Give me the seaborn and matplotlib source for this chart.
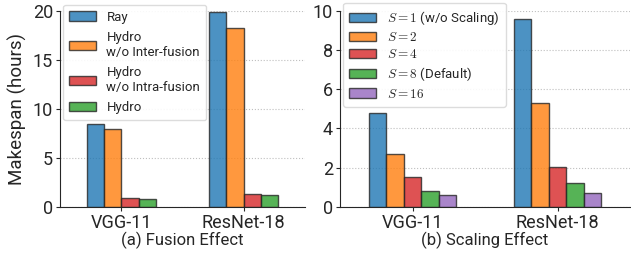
import pandas as pd
import seaborn as sns
import matplotlib.pyplot as plt

models = ["VGG-11", "ResNet-18"]

# (a) fusion effect
fusion_labels = ["Ray", "Hydro\nw/o Inter-fusion", "Hydro\nw/o Intra-fusion", "Hydro"]
fusion_vgg = [8.4, 7.95, 0.85, 0.75]
fusion_resnet = [19.85, 18.2, 1.35, 1.25]

# (b) scaling effect
scaling_labels = [r"$S=1$ (w/o Scaling)", r"$S=2$", r"$S=4$", r"$S=8$ (Default)", r"$S=16$"]
scaling_vgg = [4.8, 2.7, 1.5, 0.78, 0.62]
scaling_resnet = [9.6, 5.3, 2.05, 1.22, 0.72]

colors = ["tab:blue", "tab:orange", "tab:red", "tab:green", "tab:purple"]

sns.set_style("ticks")
plt.rcParams["font.family"] = ["Roboto", "DejaVu Sans"]
plt.rcParams["mathtext.fontset"] = "cm"


def to_long(labels, vgg, resnet):
    rows = []
    for lab, v in zip(labels, vgg):
        rows.append({"model": models[0], "setting": lab, "hours": v})
    for lab, v in zip(labels, resnet):
        rows.append({"model": models[1], "setting": lab, "hours": v})
    return pd.DataFrame(rows)


df_a = to_long(fusion_labels, fusion_vgg, fusion_resnet)
df_b = to_long(scaling_labels, scaling_vgg, scaling_resnet)

fig = plt.figure(figsize=(6.31, 2.54), dpi=100)
ax1 = fig.add_axes([60 / 631, 0.186, 245 / 631, 0.772])
ax2 = fig.add_axes([340 / 631, 0.186, 290 / 631, 0.772])

sns.barplot(data=df_a, x="model", y="hours", hue="setting", palette=colors[:4],
            width=0.565, saturation=1, edgecolor="0.15", linewidth=1.0,
            alpha=0.8, ax=ax1)
sns.barplot(data=df_b, x="model", y="hours", hue="setting", palette=colors,
            width=0.6, saturation=1, edgecolor="0.15", linewidth=1.0,
            alpha=0.8, ax=ax2)

for ax, top, xlabel, spacing, ytop in [(ax1, 20, "(a) Fusion Effect", 0.55, 1.03),
                                       (ax2, 10, "(b) Scaling Effect", 0.32, 1.04)]:
    ax.set_ylim(0, top)
    ax.set_xlim(-0.5, 1.5)
    ax.set_xlabel(xlabel, fontsize=12, labelpad=0)
    ax.set_ylabel("")
    ax.yaxis.grid(True, linestyle=":", color="0.75", linewidth=0.8)
    ax.set_axisbelow(True)
    ax.tick_params(axis="both", labelsize=13, length=3, pad=2)
    sns.despine(ax=ax)
    ax.legend(loc="upper left", bbox_to_anchor=(0.012, ytop), borderaxespad=0,
              fontsize=9.5, handlelength=2.05, handleheight=0.7,
              handletextpad=0.8, labelspacing=spacing, borderpad=0.45,
              framealpha=0.9, edgecolor="0.85", fancybox=True)

ax1.set_yticks([0, 5, 10, 15, 20])
ax2.set_yticks([0, 2, 4, 6, 8, 10])
ax1.set_ylabel("Makespan (hours)", fontsize=13.5, labelpad=4)

fig.savefig("out.png", dpi=100)
